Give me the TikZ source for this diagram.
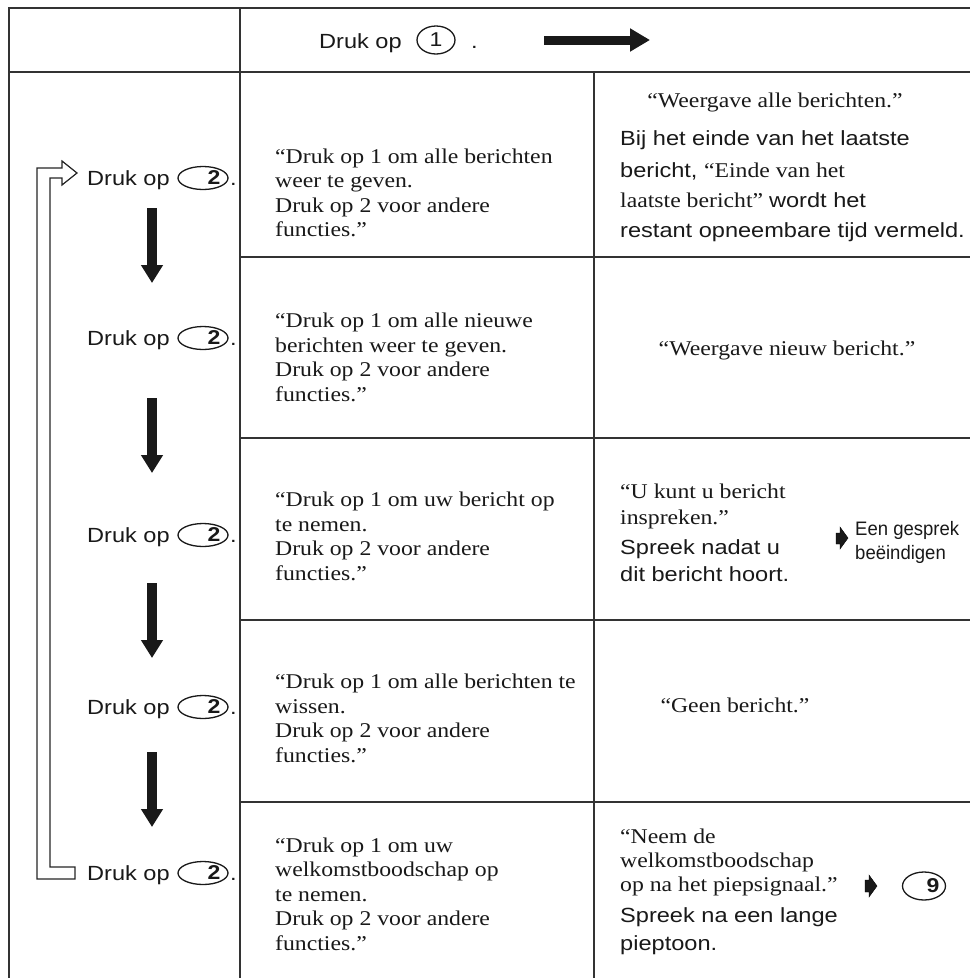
\documentclass[tikz,border=0pt]{standalone}
\usepackage{fontspec}
\setmainfont{Liberation Serif}
\newfontfamily\tnr[FakeStretch=1.13]{Liberation Serif}
\newfontfamily\arl[FakeStretch=1.15]{Liberation Sans}
\newfontfamily\arln[FakeStretch=0.95]{Liberation Sans}
\usetikzlibrary{arrows.meta,shapes.geometric}
\newcommand\fSer{\tnr\fontsize{21}{24}\selectfont}
\newcommand\fSan{\arl\fontsize{20.5}{29}\selectfont}
\newcommand\fSml{\arln\fontsize{19.5}{23}\selectfont}
\tikzset{
  grid/.style={draw=black!80, line width=1.4pt},
  ser/.style={font=\fSer, anchor=base west, inner sep=0pt, text=black!90},
  serc/.style={font=\fSer, anchor=base, inner sep=0pt, text=black!90},
  san/.style={font=\fSan, anchor=base west, inner sep=0pt, text=black!90},
  sml/.style={font=\fSml, anchor=base west, inner sep=0pt, text=black!90},
  keyoval/.style={ellipse, draw=black!90, line width=1.3pt, minimum width=50pt, minimum height=23pt, inner sep=0pt},
  keynum/.style={font=\arl\bfseries\fontsize{20}{24}\selectfont, inner sep=0pt, text=black!90},
  bigdown/.style={line width=10pt, draw=black!90, -{Triangle[width=21pt,length=18pt]}},
  bigright/.style={line width=9pt, draw=black!90, -{Triangle[width=22pt,length=20pt]}},
  smallarr/.style={fill=black!90},
  loop/.style={draw=black!85, line width=1.2pt, fill=white, line join=miter}
}
\begin{document}
\begin{tikzpicture}[x=1pt,y=-1pt]
\useasboundingbox (0,0) rectangle (970,978);
\fill[white] (0,0) rectangle (970,978);
% grid
\draw[grid] (9,978) -- (9,8) -- (970,8);
\draw[grid] (9,72) -- (970,72);
\draw[grid] (240,8) -- (240,978);
\draw[grid] (594,72) -- (594,978);
\foreach \yy in {257,438,620,802} \draw[grid] (240,\yy) -- (970,\yy);

% header
\node[san] (h0) at (319,48) {Druk op};
\node[keyoval, minimum width=38pt, minimum height=28pt] (hk) at (436,40) {};
\node[keynum, font=\arl\fontsize{20}{24}\selectfont] (hn) at (436,40) {1};
\node[san] (hd) at (471,48) {.};
\coordinate (ha) at (544,40);
\coordinate (hb) at (650,40);
\draw[bigright] (ha) -- (hb);

% left labels
\foreach \i/\yy in {1/178,2/338,3/535,4/707,5/873}{
  \node[san] (l\i) at (87,\yy+7) {Druk op};
  \node[keyoval] (k\i) at (203,\yy) {};
  \node[keynum] (n\i) at (214,\yy) {2};
  \node[san] (d\i) at (230,\yy+7) {.};
}
% down arrows
\foreach \i/\ya/\yb in {1/208/283,2/398/473,3/583/658,4/752/827}{
  \coordinate (as\i) at (152,\ya);
  \coordinate (ae\i) at (152,\yb);
  \draw[bigdown] (as\i) -- (ae\i);
}
% loop-back hollow arrow
\draw[loop] (77,173) -- (62,185) -- (62,178) -- (50,178) -- (50,867) -- (75,867)
  -- (75,879) -- (37,879) -- (37,168) -- (62,168) -- (62,161) -- cycle;

% middle column
\node[ser] (m1a) at (275,163) {“Druk op 1 om alle berichten};
\node[ser] (m1b) at (275,187) {weer te geven.};
\node[ser] (m1c) at (275,212) {Druk op 2 voor andere};
\node[ser] (m1d) at (275,236) {functies.”};

\node[ser] (m2a) at (275,327) {“Druk op 1 om alle nieuwe};
\node[ser] (m2b) at (275,352) {berichten weer te geven.};
\node[ser] (m2c) at (275,376) {Druk op 2 voor andere};
\node[ser] (m2d) at (275,401) {functies.”};

\node[ser] (m3a) at (275,506) {“Druk op 1 om uw bericht op};
\node[ser] (m3b) at (275,531) {te nemen.};
\node[ser] (m3c) at (275,555) {Druk op 2 voor andere};
\node[ser] (m3d) at (275,580) {functies.”};

\node[ser] (m4a) at (275,688) {“Druk op 1 om alle berichten te};
\node[ser] (m4b) at (275,713) {wissen.};
\node[ser] (m4c) at (275,737) {Druk op 2 voor andere};
\node[ser] (m4d) at (275,762) {functies.”};

\node[ser] (m5a) at (275,852) {“Druk op 1 om uw};
\node[ser] (m5b) at (275,876) {welkomstboodschap op};
\node[ser] (m5c) at (275,901) {te nemen.};
\node[ser] (m5d) at (275,925) {Druk op 2 voor andere};
\node[ser] (m5e) at (275,950) {functies.”};

% right column
\node[serc] (r1a) at (775,107) {“Weergave alle berichten.”};
\node[san] (r1b) at (620,145) {Bij het einde van het laatste};
\node[san] (r1c) at (620,177) {bericht, {\fSer “Einde van het}};
\node[ser] (r1d) at (620,207) {laatste bericht” {\fSan wordt het}};
\node[san] (r1e) at (620,237) {restant opneembare tijd vermeld.};

\node[serc] (r2a) at (787,355) {“Weergave nieuw bericht.”};

\node[ser] (r3a) at (620,498) {“U kunt u bericht};
\node[ser] (r3b) at (620,524) {inspreken.”};
\node[san] (r3c) at (620,554) {Spreek nadat u};
\node[san] (r3d) at (620,581) {dit bericht hoort.};
\draw[smallarr] (836,533) -- (840,533) -- (840,527) -- (848,538) -- (840,549) -- (840,544) -- (836,544) -- cycle;
\node[sml] (r3e) at (855,535) {Een gesprek};
\node[sml] (r3f) at (855,559) {beëindigen};

\node[serc] (r4a) at (735,712) {“Geen bericht.”};

\node[ser] (r5a) at (620,843) {“Neem de};
\node[ser] (r5b) at (620,867) {welkomstboodschap};
\node[ser] (r5c) at (620,891) {op na het piepsignaal.”};
\node[san] (r5d) at (620,922) {Spreek na een lange};
\node[san] (r5e) at (620,950) {pieptoon.};
\draw[smallarr] (865,880) -- (869,880) -- (869,875) -- (877,886) -- (869,897) -- (869,892) -- (865,892) -- cycle;
\node[keyoval, minimum width=43pt, minimum height=28pt] (k9) at (924,886) {};
\node[keynum] (n9) at (933,886) {9};
\end{tikzpicture}
\end{document}
